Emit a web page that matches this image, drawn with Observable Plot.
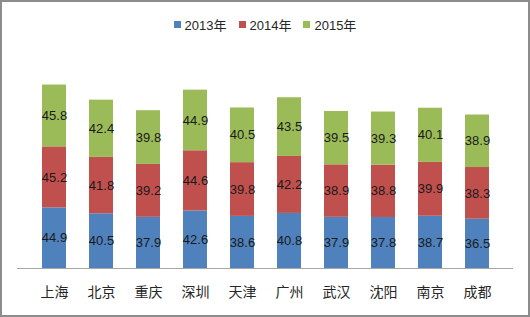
<!DOCTYPE html>
<html>
<head>
<meta charset="utf-8">
<script src="https://cdn.jsdelivr.net/npm/d3@7"></script>
<script src="https://cdn.jsdelivr.net/npm/@observablehq/plot@0.6"></script>
<style>
  html, body { margin: 0; padding: 0; background: #fff; }
  #frame {
    width: 530px; height: 317px; box-sizing: border-box;
    border: 2px solid #8c8c8c; background: #fff; overflow: hidden;
    font-family: "Liberation Sans", "Noto Sans CJK SC", sans-serif;
  }
  #legend {
    height: 44px; display: flex; justify-content: center; align-items: center;
    font-size: 13px; color: #262626; padding-left: 0px; box-sizing: border-box; padding-top: 0px;
  }
  .item { display: flex; align-items: center; margin: 0 6px; }
  .sw { width: 7px; height: 7px; margin-right: 4px; }
  svg { display: block; }
</style>
</head>
<body>
<div id="frame">
  <div id="legend"></div>
  <div id="chart"></div>
</div>
<script>
const cities = ["上海", "北京", "重庆", "深圳", "天津", "广州", "武汉", "沈阳", "南京", "成都"];
const seriesNames = ["2013年", "2014年", "2015年"];
const v2013 = [44.9, 40.5, 37.9, 42.6, 38.6, 40.8, 37.9, 37.8, 38.7, 36.5];
const v2014 = [45.2, 41.8, 39.2, 44.6, 39.8, 42.2, 38.9, 38.8, 39.9, 38.3];
const v2015 = [45.8, 42.4, 39.8, 44.9, 40.5, 43.5, 39.5, 39.3, 40.1, 38.9];
const colors = ["#4F81BD", "#C0504D", "#9BBB59"];

const allValues = [v2013, v2014, v2015];
const data = [];
seriesNames.forEach((s, si) => {
  cities.forEach((c, ci) => {
    data.push({ city: c, series: s, value: allValues[si][ci] });
  });
});

// legend
const legend = document.getElementById("legend");
seriesNames.forEach((s, i) => {
  const it = document.createElement("div");
  it.className = "item";
  const sw = document.createElement("div");
  sw.className = "sw";
  sw.style.background = colors[i];
  const tx = document.createElement("span");
  tx.textContent = s;
  it.appendChild(sw); it.appendChild(tx);
  legend.appendChild(it);
});

const plot = Plot.plot({
  width: 526,
  height: 269,
  marginTop: 6,
  marginBottom: 47,
  marginLeft: 15,
  marginRight: 15,
  style: { fontFamily: "'Liberation Sans', 'Noto Sans CJK SC', sans-serif", background: "#fff" },
  x: { domain: cities, padding: 0.5, label: null, tickSize: 0, tickPadding: 19 },
  y: { domain: [0, 160], axis: null },
  color: { domain: seriesNames, range: colors },
  marks: [
    Plot.barY(data, Plot.stackY({ x: "city", y: "value", fill: "series", order: seriesNames })),
    Plot.text(data, Plot.stackY({ x: "city", y: "value", z: "series", order: seriesNames, text: d => d.value.toFixed(1), fill: "#1a1a1a", fontSize: 13 })),
    Plot.ruleY([0], { stroke: "#a6a6a6", strokeWidth: 1 }),
    Plot.axisX({ tickSize: 0, tickPadding: 19, fontSize: 14, fill: "#262626", fontFamily: "'Noto Sans CJK SC', sans-serif", label: null })
  ]
});
document.getElementById("chart").appendChild(plot);
</script>
</body>
</html>
